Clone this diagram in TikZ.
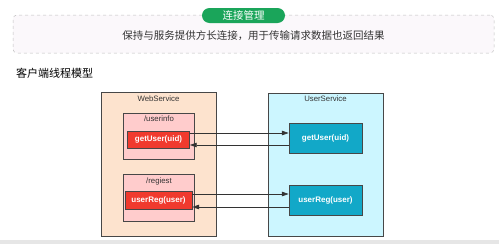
\documentclass[tikz,border=0pt]{standalone}
\usepackage{fontspec}
\setmainfont{Liberation Sans}
\newfontfamily\cjk{Noto Sans CJK SC}
\usepackage{xcolor}
\usetikzlibrary{positioning,arrows.meta,calc}
\definecolor{connink}{HTML}{333333}
\definecolor{conngreen}{HTML}{1AA55A}
\definecolor{connpanel}{HTML}{FBF8FB}
\definecolor{connedge}{HTML}{BDBDBD}
\definecolor{webfill}{HTML}{FDE3CE}
\definecolor{pathfill}{HTML}{FFCCCC}
\definecolor{callred}{HTML}{F03A2E}
\definecolor{userfill}{HTML}{CCF6FF}
\definecolor{callteal}{HTML}{12A8C8}
\definecolor{stripgray}{HTML}{E6E6E6}
\tikzset{
  panel/.style   ={draw=connedge,dashed,fill=connpanel,rounded corners=4pt,line width=0.5pt},
  pill/.style    ={fill=conngreen,rounded corners=7.5pt,text=white,font=\cjk\fontsize{10.5}{12}\selectfont,inner sep=0pt},
  service/.style ={draw=connink!90,line width=0.7pt,inner sep=0pt},
  route/.style   ={draw=connink!90,fill=pathfill,line width=0.7pt,inner sep=0pt},
  callbox/.style ={draw=connink!90,line width=0.7pt,inner sep=0pt,text=white,font=\bfseries\fontsize{8}{9}\selectfont},
  boxcap/.style  ={font=\fontsize{7.8}{9}\selectfont,text=connink,inner sep=0pt},
  arr/.style     ={-{Triangle[length=2.4mm,width=1.6mm]},line width=0.7pt,draw=connink},
}
\begin{document}
\begin{tikzpicture}[x=1pt,y=-1pt]
  \useasboundingbox (0,0) rectangle (499,244);
  \fill[stripgray] (0,240) rectangle (499,244);

  % connection management banner
  \node[panel, minimum width=481pt, minimum height=38pt] (banner) at (253.5,34) {};
  \node[pill, minimum width=83pt, minimum height=15pt] (tag) at (243.5,15.5) {连接管理};
  \node[font=\cjk\fontsize{10.5}{12}\selectfont, text=connink] (desc) at (253.5,36) {保持与服务提供方长连接，用于传输请求数据也返回结果};
  \node[anchor=west, font=\cjk\fontsize{11}{13}\selectfont, text=black, inner sep=0pt] (title) at (16,73) {客户端线程模型};

  % client side
  \node[service, fill=webfill, minimum width=115pt, minimum height=144pt] (web) at (158.5,164) {};
  \node[boxcap] (webcap) at (158.5,98.5) {WebService};
  \node[route, minimum width=71pt, minimum height=46pt] (info) at (158.5,136) {};
  \node[boxcap] (infocap) at (159,119) {/userinfo};
  \node[callbox, fill=callred, minimum width=62pt, minimum height=17pt] (wget) at (158.5,139.5) {getUser(uid)};
  \node[route, minimum width=71pt, minimum height=47pt] (reg) at (158.5,197.5) {};
  \node[boxcap] (regcap) at (159,181) {/regiest};
  \node[callbox, fill=callred, minimum width=67pt, minimum height=18pt] (wreg) at (158.5,200) {userReg(user)};

  % provider side
  \node[service, fill=userfill, minimum width=115pt, minimum height=143pt] (usr) at (325.5,164.5) {};
  \node[boxcap] (usrcap) at (325.5,98.5) {UserService};
  \node[callbox, fill=callteal, minimum width=73pt, minimum height=30pt] (uget) at (325.5,138) {getUser(uid)};
  \node[callbox, fill=callteal, minimum width=73pt, minimum height=30pt] (ureg) at (325.5,200) {userReg(user)};

  \draw[arr] ([yshift=6.5pt]wget.east) -- ([yshift=6.5pt]wget.east -| uget.west);
  \draw[arr] ([yshift=-5.5pt]wget.east -| uget.west) -- ([yshift=-5.5pt]wget.east);
  \draw[arr] ([yshift=6pt]wreg.east) -- ([yshift=6pt]wreg.east -| ureg.west);
  \draw[arr] ([yshift=-7pt]wreg.east -| ureg.west) -- ([yshift=-7pt]wreg.east);
\end{tikzpicture}
\end{document}
